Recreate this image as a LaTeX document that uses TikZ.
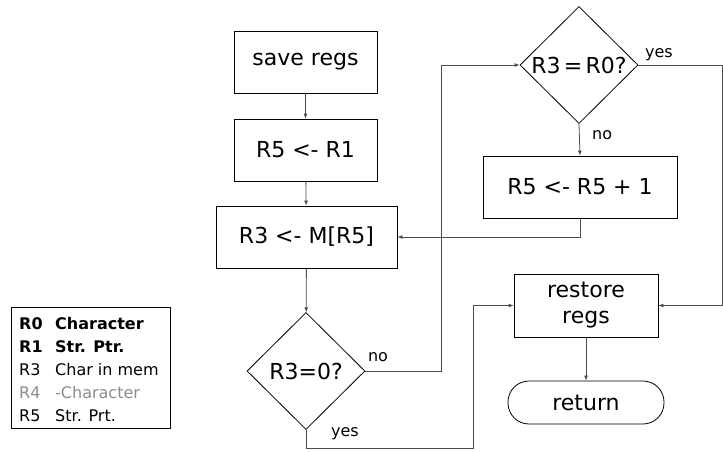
\documentclass[tikz,border=0pt]{standalone}
\usepackage{fontspec}
\setmainfont{DejaVu Sans}
\usetikzlibrary{shapes.geometric,arrows.meta}

\begin{document}
\begin{tikzpicture}[x=1pt, y=-1pt,
    every node/.style={font=\fontsize{22}{26}\selectfont},
    procbox/.style={draw, line width=0.8pt, minimum height=62pt, inner sep=0pt},
    decision/.style={draw, diamond, line width=0.8pt, minimum width=118pt, minimum height=117pt, inner sep=0pt},
    flow/.style={draw=black!70, line width=0.8pt, -{Latex[length=5pt,width=4pt]}},
    branch/.style={font=\fontsize{16}{18}\selectfont, inner sep=0pt},
    legtext/.style={font=\fontsize{16}{18}\selectfont, anchor=west, inner sep=0pt},
    legbold/.style={font=\fontsize{16}{18}\selectfont\bfseries}]
    \useasboundingbox (0,0) rectangle (723,451);

    % Left column
    \node[procbox, minimum width=143pt] (save) at (305.5,62) {save regs};
    \node[procbox, minimum width=143pt] (copy) at (305.5,150) {R5 <- R1};
    \node[procbox, minimum width=181pt] (load) at (306.5,237) {R3 <- M[R5]};
    \node[decision] (zero) at (306,371) {R3=0?};

    % Right column
    \node[decision] (match) at (579,65) {\makebox[80pt]{R3\hspace{0.15em}=\hspace{0.15em}R0?}};
    \node[procbox, minimum width=194pt] (next) at (580,187) {R5 <- R5 + 1};
    \node[procbox, minimum width=144pt, minimum height=63pt, align=center] (restore) at (586,305.5) {restore\\regs};
    \node[draw, rounded corners=21pt, line width=0.8pt, minimum width=156pt, minimum height=43pt, inner sep=0pt] (ret) at (586,402.5) {return};

    % Corners of the long connectors
    \coordinate (nobend) at (441,371);
    \coordinate (yesright) at (722,65);
    \coordinate (yescorner) at (473,448);

    % Connectors
    \draw[flow] (save) -- (copy);
    \draw[flow] (copy) -- (load);
    \draw[flow] (load) -- (zero);
    \draw[flow] (zero.east) -- (nobend) |- (match.west);
    \draw[flow] (match.south) -- (next.north);
    \draw[flow] (next.south) |- (load.east);
    \draw[flow] (match.east) -- (yesright) |- (restore.east);
    \draw[flow] (zero.south) |- (yescorner) |- (restore.west);
    \draw[flow] (restore) -- (ret);

    % Branch labels
    \node[branch] (zerono) at (378,357) {no};
    \node[branch] (zeroyes) at (345,434) {yes};
    \node[branch] (matchyes) at (659,55) {yes};
    \node[branch, anchor=west] (matchno) at (592,135) {no};

    % Legend
    \draw[line width=0.8pt] (11,307) rectangle (170,428);
    \node[legtext, legbold] (r0) at (19,324) {R0};
    \node[legtext, legbold] (r0d) at (55,324) {Character};
    \node[legtext, legbold] (r1) at (19,347) {R1};
    \node[legtext, legbold] (r1d) at (55,347) {Str. Ptr.};
    \node[legtext] (r3) at (19,370) {R3};
    \node[legtext] (r3d) at (55,370) {Char in mem};
    \node[legtext, text=black!45] (r4) at (19,393) {R4};
    \node[legtext, text=black!45] (r4d) at (55,393) {-Character};
    \node[legtext] (r5) at (19,416) {R5};
    \node[legtext] (r5d) at (55,416) {Str. Prt.};
\end{tikzpicture}
\end{document}
